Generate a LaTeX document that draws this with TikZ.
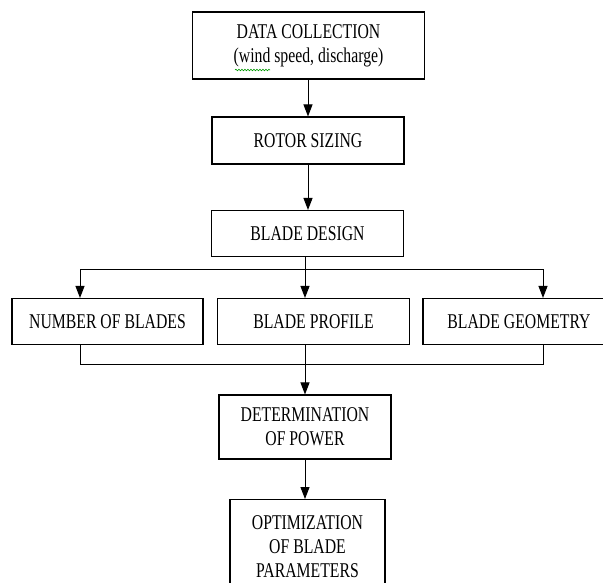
\documentclass[tikz,border=0pt]{standalone}
\usepackage{fontspec}
\setmainfont{Liberation Serif}[FakeStretch=0.75]
\usepackage{tikz}
\usetikzlibrary{arrows.meta}
\usetikzlibrary{decorations.pathmorphing}

\tikzset{
  stage/.style={draw, line width=1.1pt, align=center, inner sep=0pt,
    minimum width=192pt, minimum height=46pt,
    font=\fontsize{21}{24}\selectfont},
  flow/.style={line width=1pt, -{Triangle[length=12pt,width=9pt]}},
  link/.style={line width=1pt, line cap=rect}
}

\begin{document}
\begin{tikzpicture}[x=1pt,y=-1pt]
\useasboundingbox (0,0) rectangle (603,582);
\node[stage, minimum width=232pt, minimum height=67pt] (data) at (308.5,45.5) {DATA COLLECTION\\(wind speed, discharge)};
\node[stage, minimum height=47pt] (rotor) at (308,140.5) {ROTOR SIZING};
\node[stage] (design) at (307.5,233.5) {BLADE DESIGN};
\node[stage, minimum width=191pt] (number) at (107.5,321.5) {NUMBER OF BLADES};
\node[stage] (profile) at (313.5,321.5) {BLADE PROFILE};
\node[stage] (geometry) at (519,321.5) {BLADE GEOMETRY};
\node[stage, minimum width=172pt, minimum height=64pt] (power) at (305,427) {DETERMINATION\\OF POWER};
\node[stage, anchor=north, minimum width=155pt, minimum height=94pt] (optimum) at (307.5,499) {OPTIMIZATION\\OF BLADE\\PARAMETERS};
% spell check mark
\draw[green!60!black, line width=.6pt, decorate, decoration={snake, amplitude=.8pt, segment length=3pt}] (235,70) -- (270,70);
\coordinate (split) at (305,269);
\coordinate (lt) at (80,269);
\coordinate (rt) at (543,269);
\coordinate (join) at (305,364);
\coordinate (lb) at (80,364);
\coordinate (rb) at (543,364);
\draw[flow] (data.south -| rotor) -- (rotor);
\draw[flow] (rotor) -- (design.north -| rotor);
\draw[link] (design.south -| split) -- (split);
\draw[link] (lt) -- (rt);
\draw[flow] (lt) -- (lt |- number.north);
\draw[flow] (split) -- (split |- profile.north);
\draw[flow] (rt) -- (rt |- geometry.north);
\draw[link] (lb |- number.south) -- (lb) -- (rb) -- (rb |- geometry.south);
\draw[flow] (join |- profile.south) -- (join |- power.north);
\draw[flow] (power) -- (power.south |- optimum.north);
\end{tikzpicture}
\end{document}
